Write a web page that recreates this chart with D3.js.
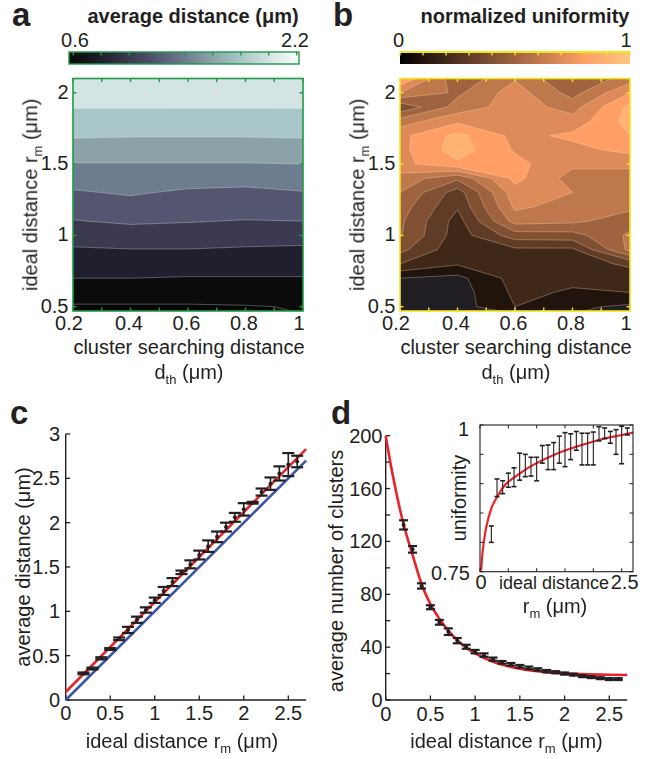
<!DOCTYPE html>
<html><head><meta charset="utf-8">
<script src="https://cdn.jsdelivr.net/npm/d3@7"></script>
<style>
body{margin:0;background:#fff;}
svg text{font-family:"Liberation Sans",Arial,Helvetica,sans-serif;fill:#231f20;}
svg tspan{fill:#231f20;}
</style></head><body>
<svg id="fig" width="647" height="759" xmlns="http://www.w3.org/2000/svg"></svg>
<script>
// ---------------- DATA ----------------
// panels a & b : grid of cluster searching distance (columns) x ideal distance (rows, top->bottom)
const dthCols = [0.2, 0.4, 0.6, 0.8, 1.0];
const rmRows  = [2.1, 2.0, 1.9, 1.8, 1.7, 1.6, 1.5, 1.4, 1.3, 1.2, 1.1, 1.0, 0.9, 0.8, 0.7, 0.6, 0.5];
const avgDistGrid = [
  [2.21, 2.21, 2.21, 2.21, 2.21],
  [2.11, 2.11, 2.11, 2.11, 2.11],
  [2.01, 2.01, 2.01, 2.01, 2.01],
  [1.91, 1.91, 1.90, 1.90, 1.91],
  [1.82, 1.81, 1.81, 1.81, 1.82],
  [1.71, 1.71, 1.71, 1.71, 1.71],
  [1.59, 1.59, 1.59, 1.59, 1.60],
  [1.48, 1.51, 1.48, 1.46, 1.49],
  [1.38, 1.42, 1.37, 1.36, 1.39],
  [1.29, 1.33, 1.30, 1.29, 1.29],
  [1.19, 1.23, 1.21, 1.19, 1.20],
  [1.08, 1.10, 1.10, 1.08, 1.07],
  [0.98, 0.995, 0.995, 0.98, 0.97],
  [0.89, 0.89, 0.88, 0.88, 0.88],
  [0.80, 0.80, 0.79, 0.79, 0.79],
  [0.69, 0.69, 0.69, 0.69, 0.70],
  [0.58, 0.58, 0.58, 0.59, 0.61]
];
const uniformityGrid = [
  [0.90, 0.52, 0.69, 0.50, 0.65],
  [0.70, 0.58, 0.75, 0.56, 0.80],
  [0.42, 0.64, 0.75, 0.66, 0.93],
  [0.65, 0.78, 0.76, 0.74, 0.94],
  [0.77, 0.93, 0.77, 0.82, 0.90],
  [0.77, 0.95, 0.79, 0.77, 0.83],
  [0.77, 0.88, 0.83, 0.72, 0.72],
  [0.66, 0.52, 0.83, 0.66, 0.66],
  [0.60, 0.35, 0.76, 0.70, 0.64],
  [0.55, 0.31, 0.72, 0.66, 0.62],
  [0.52, 0.26, 0.64, 0.62, 0.55],
  [0.51, 0.25, 0.45, 0.46, 0.62],
  [0.43, 0.23, 0.28, 0.28, 0.63],
  [0.30, 0.21, 0.26, 0.25, 0.32],
  [0.10, 0.07, 0.24, 0.22, 0.24],
  [0.05, 0.05, 0.22, 0.19, 0.20],
  [0.04, 0.05, 0.20, 0.12, 0.08]
];
const avgDistLevels   = [0.6, 0.8, 1.0, 1.2, 1.4, 1.6, 1.8, 2.0];
const avgDistCbTicks  = [0.6, 0.8, 1.0, 1.2, 1.4, 1.6, 1.8, 2.0, 2.2];
const uniformLevels   = [0, 0.1, 0.2, 0.3, 0.4, 0.5, 0.6, 0.7, 0.8, 0.9];
const uniformCbTicks  = [0, 0.1, 0.2, 0.3, 0.4, 0.5, 0.6, 0.7, 0.8, 0.9, 1.0];
const heatXTicks      = [0.2, 0.3, 0.4, 0.5, 0.6, 0.7, 0.8, 0.9, 1.0];
const heatXLabels     = [0.2, 0.4, 0.6, 0.8, 1.0];
const heatYTicks      = [0.5, 1, 1.5, 2];

// panel c
const rmIdeal = [0.2,0.3,0.4,0.5,0.6,0.7,0.8,0.9,1.0,1.1,1.2,1.3,1.4,1.5,1.6,1.7,1.8,1.9,2.0,2.1,2.2,2.3,2.4,2.5,2.6];
const avgDist    = [0.30,0.355,0.47,0.575,0.69,0.79,0.905,1.015,1.125,1.23,1.33,1.44,1.53,1.635,1.735,1.84,1.95,2.06,2.15,2.225,2.345,2.44,2.555,2.655,2.69];
const avgDistErr = [0.01,0.01,0.012,0.01,0.015,0.035,0.035,0.03,0.03,0.045,0.045,0.02,0.045,0.05,0.065,0.06,0.05,0.05,0.07,0.01,0.04,0.07,0.08,0.13,0.065];
const fitLineX = [0, 2.7];
const fitLineY = [0.09, 2.83];
const identityX = [0, 2.7];
const identityY = [0, 2.7];
const cYTicks = [0, 0.5, 1, 1.5, 2, 2.5, 3];
const cXTicks = [0, 0.5, 1, 1.5, 2, 2.5];

// panel d
const nClusters    = [132.5,114,86.3,70.2,58.8,51.7,44.9,40.3,36.6,34,30.9,28.5,27,25.5,24.3,23.1,21.8,21,20,19.2,18,17.3,16.5,15.8,15.8];
const nClustersErr = [3.5,2.5,2,1.5,1.8,2.5,2,1.5,1.3,1.3,1.2,1,1,1,1,0.9,0.9,0.8,0.8,0.7,0.7,0.7,0.7,0.7,0.7];
const nFitX = [0,0.05,0.1,0.15,0.2,0.25,0.3,0.35,0.4,0.5,0.6,0.7,0.8,0.9,1.0,1.2,1.4,1.6,1.8,2.0,2.2,2.5,2.7];
const nFitY = [200,180.5,163,147,133,121,110,98.5,88,72.5,61.5,52.5,45.3,39.6,35.2,28.9,25,22.6,21.1,20.2,19.6,19.1,18.9];
const dYTicks = [0,20,40,60,80,100,120,140,160,180,200];
const dYLabels = [0,40,80,120,160,200];
const dXTicks = [0,0.5,1,1.5,2,2.5];

// inset of d
const uniformity    = [0.814,0.893,0.894,0.906,0.911,0.929,0.931,0.929,0.925,0.950,0.945,0.947,0.958,0.958,0.963,0.973,0.959,0.959,0.960,0.985,0.986,0.979,0.971,0.966,0.989];
const uniformityErr = [0.014,0.015,0.011,0.012,0.016,0.023,0.019,0.016,0.020,0.015,0.021,0.023,0.023,0.029,0.022,0.016,0.027,0.027,0.028,0.012,0.009,0.010,0.021,0.032,0.006];
const uFitX = [0.02,0.04,0.06,0.09,0.12,0.2,0.3,0.4,0.55,0.7,0.85,1.0,1.3,1.6,1.9,2.2,2.5,2.7];
const uFitY = [0.752,0.778,0.795,0.815,0.83,0.858,0.877,0.893,0.907,0.917,0.927,0.935,0.949,0.96,0.969,0.977,0.983,0.987];
const insetYTicks = [0.75,0.8,0.85,0.9,0.95,1.0];
const insetXTicks = [0,0.5,1,1.5,2,2.5];

// ---------------- STYLE ----------------
const INK = "#231f20";
const GREEN = "#1f9a48";
const YELLOW = "#f3e61c";
const RED = "#e8232a";
const BLUE = "#3a55a4";
const avgDistCmapStops = ["#0a0b0a","#1f1f2e","#3b3a50","#545570","#6e7c8f","#8ba3a8","#a8c5c7","#d4e3e3","#f7fbfb"];
const avgDistColor = d3.scaleLinear().domain(d3.range(9).map(i => 0.6 + i*0.2)).range(avgDistCmapStops).clamp(true);
function copper(t){ return d3.rgb(255*Math.min(1,1.25*t), 255*0.7812*t, 255*0.4975*t).formatHex(); }
const uniformFloor = "#211f24";

const svg = d3.select("#fig");
const defs = svg.append("defs");
// render text through a neutral filter so it is anti-aliased in greyscale
defs.append("filter").attr("id", "gray").attr("x", "-5%").attr("y", "-20%").attr("width", "110%").attr("height", "140%")
  .append("feOffset").attr("dx", 0).attr("dy", 0);

function addText(g, x, y, parts, o = {}) {
  const t = g.append("text").attr("x", x).attr("y", y)
    .attr("font-size", o.size || 20)
    .attr("fill", INK)
    .attr("text-anchor", o.anchor || "middle");
  if (o.weight) t.attr("font-weight", o.weight);
  if (o.rotate) t.attr("transform", `rotate(-90,${x},${y})`);
  if (typeof parts === "string") { t.text(parts); return t; }
  t.attr("filter", "url(#gray)");
  let sub = false;
  parts.forEach(([s, isSub]) => {
    const ts = t.append("tspan").text(s).attr("fill", INK);
    if (isSub && !sub) { ts.attr("dy", 5).attr("font-size", 13); sub = true; }
    else if (!isSub && sub) { ts.attr("dy", -5); sub = false; }
  });
  return t;
}

// --------------- heat panels -----------------
function heatPanel(o) {
  const g = svg.append("g");
  const xs = o.x, ys = o.y;
  const [x0, x1] = xs.range(), [y0, y1] = ys.range(); // y0 bottom, y1 top
  const clipId = o.id + "clip";
  defs.append("clipPath").attr("id", clipId).append("rect")
    .attr("x", x0).attr("y", y1).attr("width", x1 - x0).attr("height", y0 - y1);
  const pg = g.append("g").attr("clip-path", `url(#${clipId})`);
  pg.append("rect").attr("x", x0).attr("y", y1).attr("width", x1 - x0).attr("height", y0 - y1).attr("fill", o.floor);
  const nx = dthCols.length, ny = rmRows.length;
  const stepX = dthCols[1] - dthCols[0], stepY = rmRows[0] - rmRows[1];
  const conts = d3.contours().size([nx, ny]).thresholds(o.levels)(o.grid.flat());
  const toPix = c => ({
    type: c.type, value: c.value,
    coordinates: c.coordinates.map(poly => poly.map(ring => ring.map(([cx, cy]) =>
      [xs(dthCols[0] + (cx - 0.5) * stepX), ys(rmRows[0] - (cy - 0.5) * stepY)])))
  });
  const path = d3.geoPath();
  pg.selectAll("path.band").data(conts.map(toPix)).join("path")
    .attr("class", "band").attr("d", path)
    .attr("fill", d => o.color(d.value))
    .attr("stroke", o.lineColor).attr("stroke-width", 0.7).attr("stroke-linejoin", "round");
  // border
  g.append("rect").attr("x", x0).attr("y", y1).attr("width", x1 - x0).attr("height", y0 - y1)
    .attr("fill", "none").attr("stroke", o.border).attr("stroke-width", 1.6);
  // ticks (inward, all four sides)
  const tl = 3.5;
  heatXTicks.forEach(v => {
    g.append("line").attr("x1", xs(v)).attr("x2", xs(v)).attr("y1", y1).attr("y2", y1 + tl).attr("stroke", o.border).attr("stroke-width", 1.4);
    g.append("line").attr("x1", xs(v)).attr("x2", xs(v)).attr("y1", y0).attr("y2", y0 - tl).attr("stroke", o.border).attr("stroke-width", 1.4);
  });
  heatYTicks.forEach(v => {
    g.append("line").attr("x1", x0).attr("x2", x0 + tl).attr("y1", ys(v)).attr("y2", ys(v)).attr("stroke", o.border).attr("stroke-width", 1.4);
    g.append("line").attr("x1", x1).attr("x2", x1 - tl).attr("y1", ys(v)).attr("y2", ys(v)).attr("stroke", o.border).attr("stroke-width", 1.4);
  });
  // tick labels
  heatYTicks.forEach(v => addText(g, x0 - 4.5, ys(v) + 6, d3.format("~g")(v), { anchor: "end" }));
  const xe = xs.domain();
  heatXLabels.forEach(v => addText(g, xs(v) - ((v === xe[0] || v === xe[1]) ? 4 : 1.5), 330, d3.format("~g")(v)));
  const cx = (x0 + x1) / 2 + 1;
  addText(g, cx, 354, "cluster searching distance");
  addText(g, cx, 379, [["d", false], ["th", true], [" (μm)", false]]);
  addText(g, o.yLabelX, (y0 + y1) / 2, [["ideal distance r", false], ["m", true], [" (μm)", false]], { rotate: true });

  // colorbar
  const cb = o.cb;
  const gradId = o.id + "grad";
  const grad = defs.append("linearGradient").attr("id", gradId)
    .attr("gradientUnits", "userSpaceOnUse").attr("x1", cb.scale.range()[0]).attr("x2", cb.scale.range()[1]).attr("y1", 0).attr("y2", 0);
  d3.range(0, 1.0001, 0.05).forEach(t => {
    const v = cb.scale.domain()[0] + t * (cb.scale.domain()[1] - cb.scale.domain()[0]);
    grad.append("stop").attr("offset", t).attr("stop-color", cb.fill(v));
  });
  g.append("rect").attr("x", cb.x0).attr("y", 52).attr("width", cb.x1 - cb.x0).attr("height", 12)
    .attr("fill", `url(#${gradId})`).attr("stroke", o.border).attr("stroke-width", cb.strokeW);
  if (cb.topLine) g.append("line").attr("x1", cb.x0).attr("x2", cb.x1).attr("y1", 52).attr("y2", 52).attr("stroke", o.border).attr("stroke-width", 2.2);
  cb.ticks.forEach(v => g.append("line").attr("x1", cb.scale(v)).attr("x2", cb.scale(v)).attr("y1", 52).attr("y2", 55.5)
    .attr("stroke", o.border).attr("stroke-width", 1.4));
  cb.labels.forEach(([v, px]) => addText(g, px, 47, d3.format("~g")(v)));
  addText(g, o.title[1], 23, o.title[0], { weight: "bold" });
  addText(g, o.letter[1], 26, o.letter[0], { weight: "bold", size: 33, anchor: "start" });
}

const yHeat = d3.scaleLinear().domain([0.47, 2.1]).range([311, 78.5]);
heatPanel({
  id: "a", x: d3.scaleLinear().domain([0.2, 1]).range([73, 303]), y: yHeat,
  grid: avgDistGrid, levels: avgDistLevels, color: v => avgDistColor(v), floor: "#060606",
  lineColor: "rgba(235,240,240,0.45)", border: GREEN, yLabelX: 37,
  cb: { scale: d3.scaleLinear().domain([0.6, 2.2]).range([73.3, 296.7]), x0: 69, x1: 299, fill: v => avgDistColor(v),
        ticks: avgDistCbTicks, labels: [[0.6, 75], [2.2, 295]], strokeW: 1.4 },
  title: ["average distance (μm)", 193], letter: ["a", 12]
});
heatPanel({
  id: "b", x: d3.scaleLinear().domain([0.2, 1]).range([400, 630]), y: yHeat,
  grid: uniformityGrid, levels: uniformLevels, color: v => v <= 0 ? uniformFloor : copper(v), floor: uniformFloor,
  lineColor: "rgba(255,225,200,0.45)", border: YELLOW, yLabelX: 364,
  cb: { scale: d3.scaleLinear().domain([0, 1]).range([400, 630]), x0: 400, x1: 630, fill: v => copper(v),
        ticks: uniformCbTicks, labels: [[0, 398.5], [1, 626]], strokeW: 0, topLine: true },
  title: ["normalized uniformity", 525], letter: ["b", 333]
});

// --------------- line panels -----------------
function axesLR(g, xs, ys, xTicks, yTicks, yLabels, yLabelEnd, xLabelBase) {
  const [xa, xb] = xs.range(), [ya, yb] = ys.range();
  g.append("line").attr("x1", xa).attr("x2", xa).attr("y1", ya).attr("y2", yb).attr("stroke", INK).attr("stroke-width", 1.4);
  g.append("line").attr("x1", xa).attr("x2", xb).attr("y1", ya).attr("y2", ya).attr("stroke", INK).attr("stroke-width", 1.4);
  yTicks.forEach(v => g.append("line").attr("x1", xa).attr("x2", xa + 4.5).attr("y1", ys(v)).attr("y2", ys(v)).attr("stroke", INK).attr("stroke-width", 1.3));
  xTicks.forEach(v => g.append("line").attr("x1", xs(v)).attr("x2", xs(v)).attr("y1", ya).attr("y2", ya - 4.5).attr("stroke", INK).attr("stroke-width", 1.3));
  yLabels.forEach(v => addText(g, yLabelEnd, ys(v) + 7, d3.format("~g")(v), { anchor: "end" }));
  xTicks.forEach(v => addText(g, xs(v), xLabelBase, d3.format("~g")(v)));
}
function errorBars(g, xs, ys, X, Y, E, cap, w, capW, dot) {
  X.forEach((x, i) => {
    const px = xs(x);
    g.append("line").attr("x1", px).attr("x2", px).attr("y1", ys(Y[i] - E[i])).attr("y2", ys(Y[i] + E[i])).attr("stroke", INK).attr("stroke-width", w);
    [Y[i] - E[i], Y[i] + E[i]].forEach(v => g.append("line").attr("x1", px - cap).attr("x2", px + cap).attr("y1", ys(v)).attr("y2", ys(v)).attr("stroke", INK).attr("stroke-width", capW));
    if (dot) g.append("circle").attr("cx", px).attr("cy", ys(Y[i])).attr("r", dot).attr("fill", INK);
  });
}

// panel c
{
  const g = svg.append("g");
  const xs = d3.scaleLinear().domain([0, 2.7]).range([65.7, 306.1]);
  const ys = d3.scaleLinear().domain([0, 3]).range([700, 434]);
  axesLR(g, xs, ys, cXTicks, cYTicks, cYTicks, 60, 720);
  const line = d3.line().x(d => xs(d[0])).y(d => ys(d[1]));
  g.append("path").attr("d", line(d3.zip(identityX, identityY))).attr("stroke", BLUE).attr("stroke-width", 2.6).attr("fill", "none");
  g.append("path").attr("d", line(d3.zip(fitLineX, fitLineY))).attr("stroke", RED).attr("stroke-width", 2.6).attr("fill", "none");
  errorBars(g, xs, ys, rmIdeal, avgDist, avgDistErr, 6, 1.6, 2.2, 2);
  addText(g, 182, 748, [["ideal distance r", false], ["m", true], [" (μm)", false]]);
  addText(g, 30, 567, "average distance (μm)", { rotate: true });
  addText(g, 10, 424, "c", { weight: "bold", size: 33, anchor: "start" });
}

// panel d
{
  const g = svg.append("g");
  const xs = d3.scaleLinear().domain([0, 2.7]).range([385.7, 627.2]);
  const ys = d3.scaleLinear().domain([0, 200]).range([700, 435.7]);
  axesLR(g, xs, ys, dXTicks, dYTicks, dYLabels, 382.5, 721);
  const line = d3.line().x(d => xs(d[0])).y(d => ys(d[1])).curve(d3.curveMonotoneX);
  g.append("path").attr("d", line(d3.zip(nFitX, nFitY))).attr("stroke", RED).attr("stroke-width", 2.6).attr("fill", "none");
  errorBars(g, xs, ys, rmIdeal, nClusters, nClustersErr, 4.5, 1.6, 2.2, 2);
  addText(g, 506.5, 748, [["ideal distance r", false], ["m", true], [" (μm)", false]]);
  addText(g, 343, 571, "average number of clusters", { rotate: true });
  addText(g, 331, 424, "d", { weight: "bold", size: 33, anchor: "start" });

  // inset
  const ix = d3.scaleLinear().domain([0, 2.7]).range([480, 633]);
  const iy = d3.scaleLinear().domain([0.75, 1]).range([571.7, 425]);
  const gi = svg.append("g");
  gi.append("rect").attr("x", 480).attr("y", 425).attr("width", 153).attr("height", 146.7).attr("fill", "#fff");
  defs.append("clipPath").attr("id", "insetclip").append("rect").attr("x", 480).attr("y", 424).attr("width", 153).attr("height", 148);
  const gc = gi.append("g").attr("clip-path", "url(#insetclip)");
  const iline = d3.line().x(d => ix(d[0])).y(d => iy(d[1])).curve(d3.curveMonotoneX);
  gc.append("path").attr("d", iline(d3.zip(uFitX, uFitY))).attr("stroke", RED).attr("stroke-width", 2.2).attr("fill", "none");
  errorBars(gc, ix, iy, rmIdeal, uniformity, uniformityErr, 2.5, 1.1, 1.6, 0);
  gi.append("rect").attr("x", 480).attr("y", 425).attr("width", 153).attr("height", 146.7).attr("fill", "none").attr("stroke", INK).attr("stroke-width", 1.1);
  insetYTicks.forEach(v => {
    gi.append("line").attr("x1", 480).attr("x2", 483.5).attr("y1", iy(v)).attr("y2", iy(v)).attr("stroke", INK).attr("stroke-width", 1);
    gi.append("line").attr("x1", 633).attr("x2", 629.5).attr("y1", iy(v)).attr("y2", iy(v)).attr("stroke", INK).attr("stroke-width", 1);
  });
  insetXTicks.forEach(v => {
    gi.append("line").attr("x1", ix(v)).attr("x2", ix(v)).attr("y1", 571.7).attr("y2", 568.2).attr("stroke", INK).attr("stroke-width", 1);
    gi.append("line").attr("x1", ix(v)).attr("x2", ix(v)).attr("y1", 425).attr("y2", 428.5).attr("stroke", INK).attr("stroke-width", 1);
  });
  addText(gi, 469, 436, "1", { anchor: "end" });
  addText(gi, 470, 580, "0.75", { anchor: "end" });
  addText(gi, ix(0) + 1, 589, "0");
  addText(gi, ix(2.5) + 3, 589, "2.5");
  addText(gi, 554, 589, "ideal distance", { size: 18 });
  addText(gi, 555, 613, [["r", false], ["m", true], [" (μm)", false]]);
  addText(gi, 466, 498, "uniformity", { rotate: true });
}
</script>
</body></html>
